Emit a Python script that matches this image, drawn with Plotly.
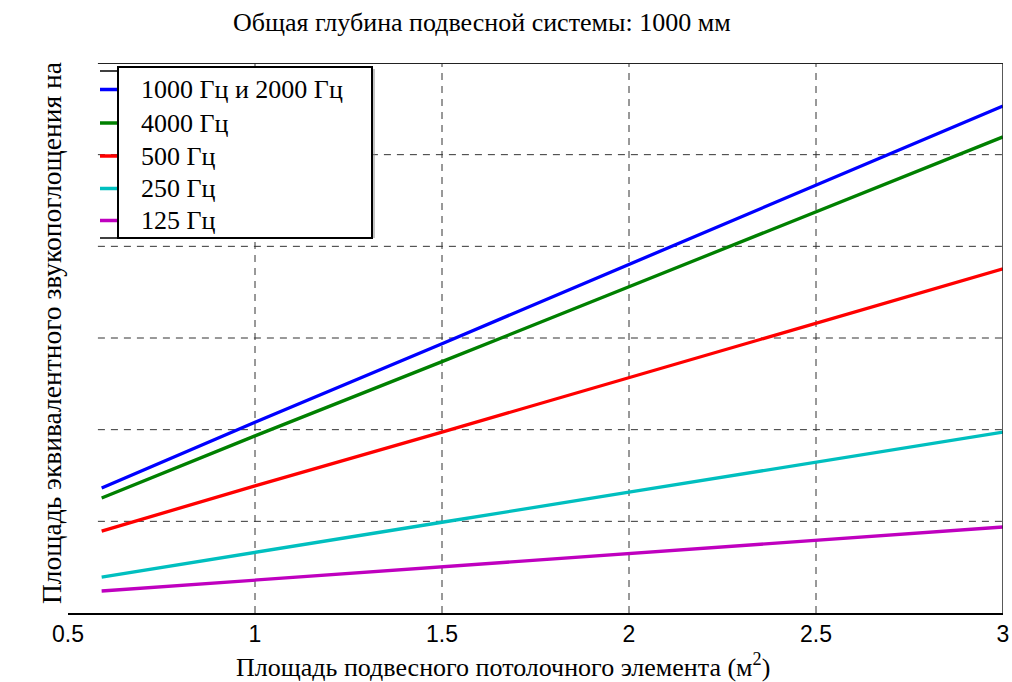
import plotly.graph_objects as go

# ---- data ----
area = [0.59, 1.0, 1.5, 2.0, 2.5, 3.0]
names = ["1000 Гц и 2000 Гц", "4000 Гц", "500 Гц", "250 Гц", "125 Гц"]
colors = ["#0000FF", "#008000", "#FF0000", "#00BFBF", "#BF00BF"]
s_1000_2000 = [0.682, 1.040, 1.469, 1.900, 2.332, 2.766]
s_4000 = [0.627, 0.966, 1.371, 1.779, 2.187, 2.597]
s_500 = [0.447, 0.693, 0.987, 1.283, 1.579, 1.877]
s_250 = [0.196, 0.332, 0.495, 0.659, 0.823, 0.987]
s_125 = [0.120, 0.180, 0.252, 0.324, 0.397, 0.469]
series = [s_1000_2000, s_4000, s_500, s_250, s_125]
x_ticks = [0.5, 1, 1.5, 2, 2.5, 3]
x_tick_labels = ["0.5", "1", "1.5", "2", "2.5", "3"]
y_grid = [0.5, 1.0, 1.5, 2.0, 2.5]

W, H = 1012, 682
PL, PR, PT, PB = 68, 1003, 63, 613   # plot area in screen pixels
L, R, T, B = PL, W - PR, PT, H - PB


def px_x(p):
    return (p - PL) / (PR - PL)


def px_y(p):
    return (PB - p) / (PB - PT)


fig = go.Figure()
for n, c, s in zip(names, colors, series):
    fig.add_trace(go.Scatter(x=area, y=s, mode="lines", name=n,
                             line=dict(color=c, width=3.3), showlegend=False))

serif = "Liberation Serif, Times New Roman, serif"
shapes = []
x_left = area[0]
# dashed grid
for gx in x_ticks[1:-1]:
    shapes.append(dict(type="line", xref="x", yref="y", x0=gx, x1=gx, y0=0, y1=3,
                       line=dict(color="#333333", width=1, dash="7px,6px"), layer="below"))
for gy in y_grid:
    shapes.append(dict(type="line", xref="x", yref="y", x0=x_left - 0.01, x1=3, y0=gy, y1=gy,
                       line=dict(color="#333333", width=1, dash="7px,6px"), layer="below"))
# frame (top and right)
shapes.append(dict(type="line", xref="x", yref="y", x0=x_left - 0.01, x1=3, y0=3, y1=3,
                   line=dict(color="#222222", width=2)))
shapes.append(dict(type="line", xref="x", yref="y", x0=3, x1=3, y0=0, y1=3,
                   line=dict(color="#222222", width=1.5)))

# legend box (drawn manually)
bx0, bx1, by0, by1 = 118, 372, 67, 238
shapes.append(dict(type="rect", xref="paper", yref="paper",
                   x0=px_x(bx0), x1=px_x(bx1), y0=px_y(by1), y1=px_y(by0),
                   line=dict(color="black", width=2), fillcolor="white"))
shapes.append(dict(type="line", xref="paper", yref="paper",
                   x0=px_x(bx1 + 2), x1=px_x(bx1 + 2), y0=px_y(by1), y1=px_y(by0 + 2),
                   line=dict(color="#888888", width=1)))
for yy in (71, 238):
    shapes.append(dict(type="line", xref="paper", yref="paper",
                       x0=px_x(100), x1=px_x(bx0), y0=px_y(yy), y1=px_y(yy),
                       line=dict(color="black", width=1.5)))

annotations = []
item_y = [89.5, 123, 156, 188.5, 220.5]
for n, c, yy in zip(names, colors, item_y):
    shapes.append(dict(type="line", xref="paper", yref="paper",
                       x0=px_x(100), x1=px_x(117), y0=px_y(yy), y1=px_y(yy),
                       line=dict(color=c, width=3.5)))
    annotations.append(dict(xref="paper", yref="paper", x=px_x(139), y=px_y(yy),
                            xanchor="left", yanchor="middle", text=n, showarrow=False,
                            font=dict(family=serif, size=26, color="black")))

# titles
annotations.append(dict(xref="paper", yref="paper", x=px_x(482), y=px_y(23),
                        xanchor="center", yanchor="middle", showarrow=False,
                        text="Общая глубина подвесной системы: 1000 мм",
                        font=dict(family=serif, size=26, color="black")))
annotations.append(dict(xref="paper", yref="paper", x=px_x(503), y=px_y(665),
                        xanchor="center", yanchor="middle", showarrow=False,
                        text="Площадь подвесного потолочного элемента (м<sup>2</sup>)",
                        font=dict(family=serif, size=26, color="black")))
annotations.append(dict(xref="paper", yref="paper", x=px_x(51), y=px_y(333),
                        xanchor="center", yanchor="middle", showarrow=False, textangle=-90,
                        text="Площадь эквивалентного звукопоглощения на",
                        font=dict(family=serif, size=27.5, color="black")))

fig.update_layout(
    width=W, height=H,
    margin=dict(l=L, r=R, t=T, b=B, autoexpand=False),
    paper_bgcolor="white", plot_bgcolor="white",
    showlegend=False, hovermode=False,
    shapes=shapes, annotations=annotations,
    xaxis=dict(range=[0.5, 3], tickvals=x_ticks, ticktext=x_tick_labels, automargin=False,
               showgrid=False, zeroline=False, showline=True, linecolor="black", linewidth=1.5,
               ticks="", tickfont=dict(family="Liberation Sans, Arial, sans-serif", size=23, color="black")),
    yaxis=dict(range=[0, 3], showgrid=False, zeroline=False, showticklabels=False, automargin=False,
               showline=False, ticks=""),
)
fig.write_html("out.html", config={"displayModeBar": False},
               post_script="document.body.style.margin='0';document.body.style.overflow='hidden';")
